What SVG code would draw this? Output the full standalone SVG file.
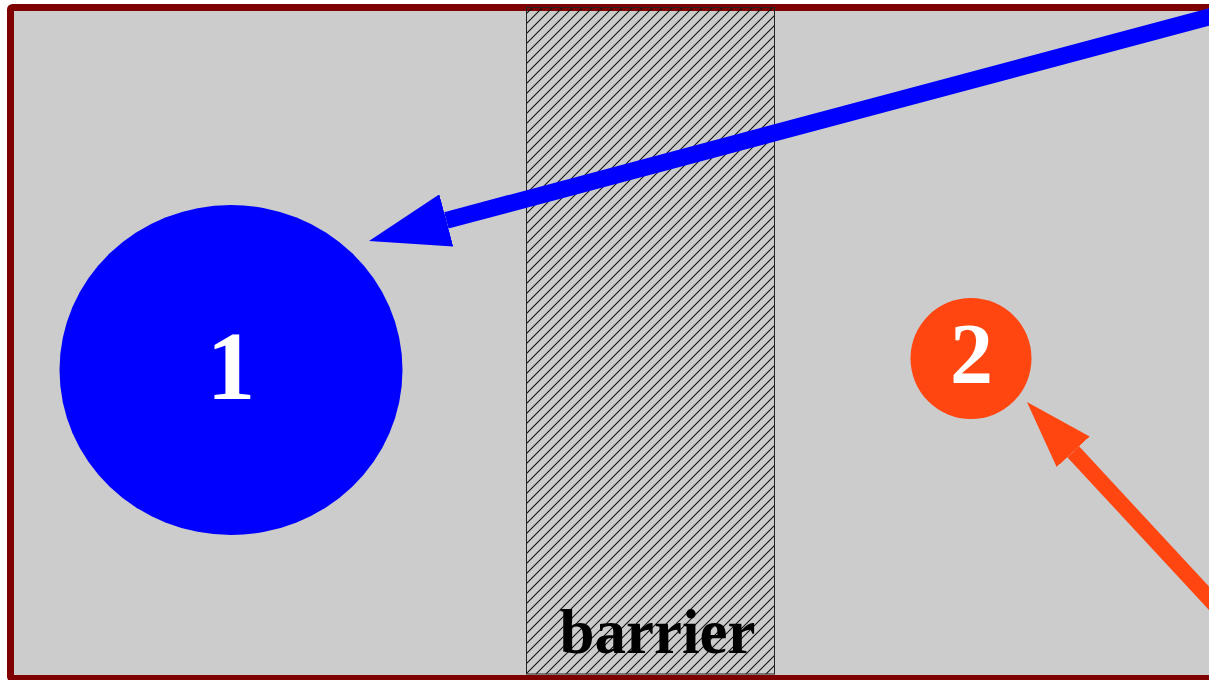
<svg xmlns="http://www.w3.org/2000/svg" width="1209" height="680" viewBox="0 0 1209 680">
<style>
.frame{fill:#cccccc;stroke:#7f0000;stroke-width:7}
.barrier{fill:url(#hatch);stroke:#222;stroke-width:1}
.lbl{font-family:"Liberation Serif","Times New Roman",serif;font-weight:bold;text-anchor:middle}
.white{fill:#ffffff}
.conn{fill:none;stroke-linecap:butt}
</style>
<defs>
<pattern id="hatch" patternUnits="userSpaceOnUse" width="10" height="10">
<path d="M-2,2 L2,-2 M0,10 L10,0 M8,12 L12,8" stroke="#111" stroke-width="1.1" fill="none"/>
</pattern>
<marker id="head-blue" markerUnits="userSpaceOnUse" viewBox="0 0 80 54" markerWidth="80" markerHeight="54" refX="0" refY="27" orient="auto">
<path d="M0,0 L80,27 L0,54 Z" fill="#0000ff"/>
</marker>
<marker id="head-orange" markerUnits="userSpaceOnUse" viewBox="0 0 68 45" markerWidth="68" markerHeight="45" refX="0" refY="22.5" orient="auto">
<path d="M0,0 L68,22.5 L0,45 Z" fill="#ff4611"/>
</marker>
</defs>
<rect class="frame" x="10.5" y="7.5" width="1260" height="671" rx="2"/>
<g id="barrier">
<rect class="barrier" x="526.5" y="7.5" width="248" height="666.5"/>
<text class="lbl" x="657.5" y="653" font-size="63" fill="#000">barrier</text>
</g>
<g id="node1">
<ellipse cx="231" cy="370" rx="171.5" ry="165" fill="#0000ff"/>
<text class="lbl white" x="231" y="399" font-size="97">1</text>
</g>
<g id="node2">
<circle cx="971" cy="358.5" r="60.5" fill="#ff4611"/>
<text class="lbl white" x="971.5" y="383" font-size="86">2</text>
</g>
<g id="connectors">
<path class="conn" d="M1230,11.4 L446.3,220.4" stroke="#0000ff" stroke-width="17" marker-end="url(#head-blue)"/>
<path class="conn" d="M1240,631.6 L1073.2,451.8" stroke="#ff4611" stroke-width="16" marker-end="url(#head-orange)"/>
</g>
</svg>
